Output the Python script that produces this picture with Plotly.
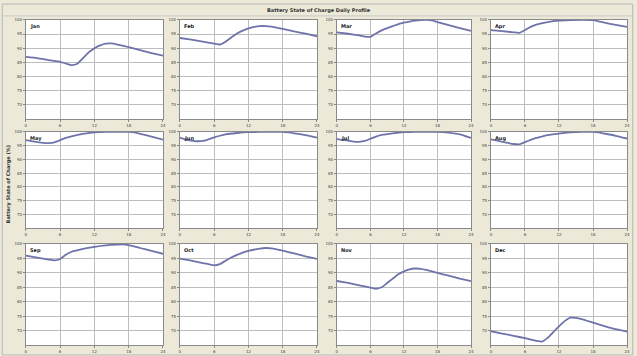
import plotly.graph_objects as go

months = ["Jan", "Feb", "Mar", "Apr", "May", "Jun", "Jul", "Aug", "Sep", "Oct", "Nov", "Dec"]

jan_h = [0, 2, 4, 6, 7, 8, 9, 10, 11, 12, 13, 14, 15, 16, 18, 20, 22, 24]
jan_v = [86.9, 86.5, 85.8, 85.2, 84.6, 84.0, 84.5, 86.5, 88.5, 90.0, 91.0, 91.6, 91.7, 91.3, 90.4, 89.3, 88.3, 87.4]
feb_h = [0, 2, 4, 6, 7, 8, 9, 10, 11, 12, 13, 14, 15, 16, 18, 20, 22, 24]
feb_v = [93.6, 93.0, 92.3, 91.6, 91.3, 92.3, 93.8, 95.2, 96.2, 97.0, 97.5, 97.8, 97.8, 97.6, 96.8, 95.9, 95.1, 94.2]
mar_h = [0, 2, 4, 5, 6, 7, 8, 9, 10, 11, 12, 13, 14, 15, 16, 17, 18, 20, 22, 24]
mar_v = [95.6, 95.1, 94.5, 94.1, 94.0, 95.2, 96.3, 97.1, 97.8, 98.5, 99.0, 99.4, 99.7, 99.9, 100, 99.8, 99.2, 98.1, 97.1, 96.1]
apr_h = [0, 2, 4, 5, 6, 7, 8, 10, 12, 14, 16, 18, 19, 20, 22, 24]
apr_v = [96.4, 96.0, 95.6, 95.4, 96.4, 97.5, 98.3, 99.2, 99.7, 99.9, 100, 99.9, 99.5, 99.0, 98.2, 97.5]
may_h = [0, 2, 3, 4, 5, 6, 7, 8, 10, 12, 14, 16, 18, 19, 20, 22, 24]
may_v = [97.0, 96.3, 96.0, 95.9, 96.2, 97.0, 97.8, 98.4, 99.3, 99.8, 100, 100, 100, 99.8, 99.3, 98.3, 97.2]
jun_h = [0, 1, 2, 3, 4, 5, 6, 7, 8, 10, 12, 14, 16, 18, 19, 20, 22, 24]
jun_v = [97.9, 97.2, 96.8, 96.6, 96.7, 97.3, 98.0, 98.6, 99.1, 99.6, 99.9, 100, 100, 100, 99.8, 99.5, 98.8, 97.9]
jul_h = [0, 2, 3, 4, 5, 6, 7, 8, 10, 12, 14, 16, 18, 19, 20, 22, 24]
jul_v = [97.4, 96.8, 96.5, 96.4, 96.7, 97.5, 98.3, 98.9, 99.5, 99.9, 100, 100, 100, 99.9, 99.7, 99.1, 97.8]
aug_h = [0, 1, 2, 3, 4, 5, 6, 7, 8, 9, 10, 12, 14, 16, 18, 19, 20, 22, 24]
aug_v = [97.3, 96.9, 96.4, 96.0, 95.6, 95.5, 96.3, 97.1, 97.8, 98.3, 98.8, 99.4, 99.8, 100, 100, 99.8, 99.4, 98.6, 97.6]
sep_h = [0, 2, 4, 5, 6, 7, 8, 10, 12, 14, 16, 17, 18, 20, 22, 24]
sep_v = [96.0, 95.3, 94.6, 94.3, 94.8, 96.3, 97.3, 98.3, 99.0, 99.5, 99.8, 99.9, 99.6, 98.6, 97.6, 96.6]
oct_h = [0, 2, 4, 6, 7, 8, 9, 10, 11, 12, 14, 15, 16, 18, 20, 22, 24]
oct_v = [94.9, 94.2, 93.4, 92.6, 93.0, 94.2, 95.3, 96.2, 97.0, 97.6, 98.4, 98.6, 98.5, 97.7, 96.7, 95.7, 94.8]
nov_h = [0, 2, 4, 6, 7, 8, 9, 10, 11, 12, 13, 14, 15, 16, 18, 20, 22, 24]
nov_v = [87.2, 86.5, 85.7, 84.9, 84.5, 85.0, 86.5, 88.0, 89.5, 90.5, 91.2, 91.5, 91.4, 91.0, 90.0, 89.0, 88.0, 87.1]
dec_h = [0, 2, 4, 6, 8, 9, 10, 11, 12, 13, 14, 15, 16, 18, 20, 22, 24]
dec_v = [69.8, 69.0, 68.2, 67.4, 66.5, 66.2, 67.5, 69.5, 71.5, 73.3, 74.5, 74.4, 74.0, 72.8, 71.6, 70.5, 69.7]

hours = [jan_h, feb_h, mar_h, apr_h, may_h, jun_h, jul_h, aug_h, sep_h, oct_h, nov_h, dec_h]
values = [jan_v, feb_v, mar_v, apr_v, may_v, jun_v, jul_v, aug_v, sep_v, oct_v, nov_v, dec_v]

x_ticks = [0, 6, 12, 18, 24]
y_ticks = [70, 75, 80, 85, 90, 95, 100]

W, H = 637, 356
col_px = [(25, 163), (180, 318), (338, 473), (493, 630)]
row_px = [(17, 117), (130, 227), (243, 345)]

BG = "#ECE9D8"
LINE = "#6E73AA"
GRID = "#BDBDBD"

fig = go.Figure()
layout = dict(
    width=W, height=H,
    margin=dict(l=0, r=0, t=0, b=0),
    paper_bgcolor=BG, plot_bgcolor="white",
    showlegend=False,
    font=dict(family="DejaVu Sans", size=5, color="#333333"),
)
annotations = []
shapes = []
for i, m in enumerate(months):
    r, c = divmod(i, 4)
    n = "" if i == 0 else str(i + 1)
    x0, x1 = col_px[c]
    y0, y1 = row_px[r]
    fig.add_trace(go.Scatter(
        x=hours[i], y=values[i], mode="lines",
        line=dict(color=LINE, width=1.8, shape="spline", smoothing=0.4),
        xaxis="x" + n, yaxis="y" + n, hoverinfo="skip"))
    layout["xaxis" + n] = dict(
        domain=[x0 / W, x1 / W], anchor="y" + n, range=[0, 24],
        tickvals=x_ticks, showgrid=True, gridcolor=GRID, gridwidth=1,
        showline=True, linecolor="#8A8A8A", mirror=True, zeroline=False,
        ticks="outside", ticklen=2, tickcolor="#888888",
        tickfont=dict(size=4, color="#444444"), fixedrange=True)
    layout["yaxis" + n] = dict(
        domain=[1 - y1 / H, 1 - y0 / H], anchor="x" + n, range=[65, 100],
        tickvals=y_ticks, showgrid=True, gridcolor=GRID, gridwidth=1,
        showline=True, linecolor="#8A8A8A", mirror=True, zeroline=False,
        ticks="outside", ticklen=2, tickcolor="#888888",
        tickfont=dict(size=4, color="#444444"), fixedrange=True)
    annotations.append(dict(
        text="<b>" + m + "</b>", xref="x" + n, yref="y" + n,
        x=0.3, y=99.6, xanchor="left", yanchor="top", showarrow=False,
        font=dict(size=5, color="#222222")))

annotations.append(dict(
    text="<b>Battery State of Charge Daily Profile</b>", xref="paper", yref="paper",
    x=320 / W, y=1 - 8 / H, xanchor="center", yanchor="middle", showarrow=False,
    font=dict(size=5, color="#333333")))
annotations.append(dict(
    text="<b>Battery State of Charge (%)</b>", xref="paper", yref="paper",
    x=8 / W, y=1 - 183 / H, xanchor="center", yanchor="middle", showarrow=False,
    textangle=-90, font=dict(size=5, color="#333333")))

shapes.append(dict(type="rect", xref="paper", yref="paper", x0=0.002, x1=0.998,
                   y0=0.003, y1=0.997, line=dict(color="#B8B8B8", width=1)))
shapes.append(dict(type="line", xref="paper", yref="paper", x0=0.002, x1=0.998,
                   y0=1 - 13 / H, y1=1 - 13 / H, line=dict(color="#C8C8C8", width=1)))

layout["annotations"] = annotations
layout["shapes"] = shapes
fig.update_layout(**layout)
fig.write_html(
    "out.html",
    config={"displayModeBar": False},
    post_script="document.body.style.margin='0';document.body.style.overflow='hidden';",
)
